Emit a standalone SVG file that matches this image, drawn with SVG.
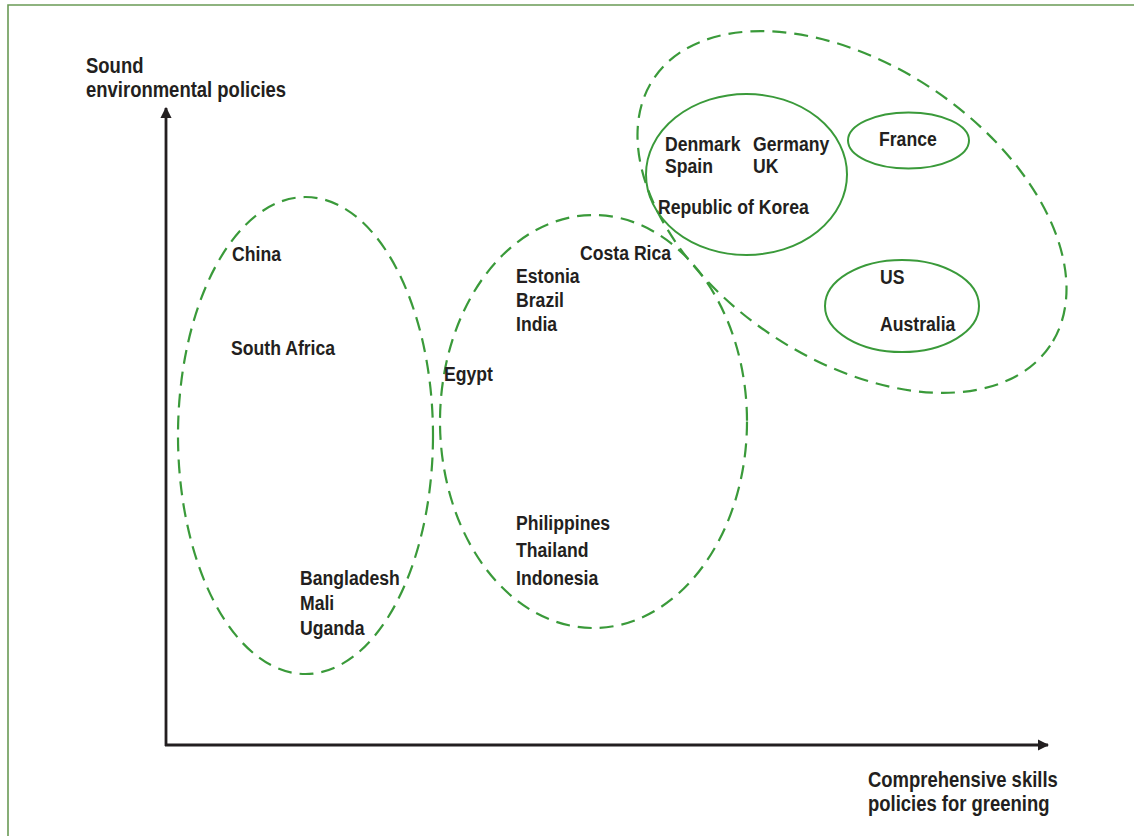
<svg xmlns="http://www.w3.org/2000/svg" width="1134" height="836" viewBox="0 0 1134 836">
<style>
.lbl{font-family:'Liberation Sans',Arial,sans-serif;font-weight:bold;font-size:21px;fill:#231f20}
.ax{font-size:22px}
.dash{fill:none;stroke:#3a9a3a;stroke-width:2.2;stroke-dasharray:14 8}
.solid{fill:none;stroke:#3a9a3a;stroke-width:2}
.axis{stroke:#231f20;stroke-width:2.8;fill:none}
</style>
<defs>
<marker id="arr" viewBox="0 0 10 10" refX="9" refY="5" markerWidth="4" markerHeight="4" orient="auto" markerUnits="strokeWidth">
<path d="M0,0 L10,5 L0,10 z" fill="#231f20"/>
</marker>
</defs>
<rect x="0" y="0" width="1134" height="836" fill="#ffffff"/>
<g id="frame">
<path d="M8,836 V5 H1134" fill="none" stroke="#6a9a55" stroke-width="1.6"/>
</g>
<g id="connectors">
<path class="axis" d="M166,746 V108" marker-end="url(#arr)"/>
<path class="axis" d="M165,745 H1048" marker-end="url(#arr)"/>
</g>
<g id="axis-labels" transform="matrix(0.84 0 0 1 0 0)">
<text class="lbl ax" x="102.4" y="73">Sound</text>
<text class="lbl ax" x="102.4" y="97">environmental policies</text>
<text class="lbl ax" x="1033.3" y="787">Comprehensive skills</text>
<text class="lbl ax" x="1033.3" y="811">policies for greening</text>
</g>
<g id="group-low">
<ellipse class="dash" cx="305.5" cy="435.5" rx="127.5" ry="238.5"/>
<g transform="matrix(0.84 0 0 1 0 0)">
<text class="lbl" x="276.2" y="261">China</text>
<text class="lbl" x="275" y="355">South Africa</text>
<text class="lbl" x="357.1" y="585">Bangladesh</text>
<text class="lbl" x="357.1" y="610">Mali</text>
<text class="lbl" x="357.1" y="635">Uganda</text>
</g>
</g>
<g id="group-mid">
<ellipse class="dash" cx="593.5" cy="421.5" rx="153.5" ry="206.5"/>
<g transform="matrix(0.84 0 0 1 0 0)">
<text class="lbl" x="690.5" y="260">Costa Rica</text>
<text class="lbl" x="614.3" y="283">Estonia</text>
<text class="lbl" x="614.3" y="307">Brazil</text>
<text class="lbl" x="614.3" y="331">India</text>
<text class="lbl" x="528.6" y="381">Egypt</text>
<text class="lbl" x="614.3" y="530">Philippines</text>
<text class="lbl" x="614.3" y="557">Thailand</text>
<text class="lbl" x="614.3" y="585">Indonesia</text>
</g>
</g>
<g id="group-high">
<ellipse class="dash" cx="852" cy="212" rx="239" ry="147" transform="rotate(34 852 212)"/>
</g>
<g id="node-europe">
<ellipse class="solid" cx="746.5" cy="174.5" rx="100.5" ry="80.5"/>
<g transform="matrix(0.84 0 0 1 0 0)">
<text class="lbl" x="791.7" y="151">Denmark</text>
<text class="lbl" x="896.4" y="151">Germany</text>
<text class="lbl" x="791.7" y="173">Spain</text>
<text class="lbl" x="896.4" y="173">UK</text>
<text class="lbl" x="783.3" y="214">Republic of Korea</text>
</g>
</g>
<g id="node-france">
<ellipse class="solid" cx="908.5" cy="140.5" rx="60.5" ry="28"/>
<text class="lbl" x="1046.4" y="146" transform="matrix(0.84 0 0 1 0 0)">France</text>
</g>
<g id="node-us">
<ellipse class="solid" cx="902" cy="306" rx="77" ry="46"/>
<g transform="matrix(0.84 0 0 1 0 0)">
<text class="lbl" x="1047.6" y="284">US</text>
<text class="lbl" x="1047.6" y="331">Australia</text>
</g>
</g>
</svg>
